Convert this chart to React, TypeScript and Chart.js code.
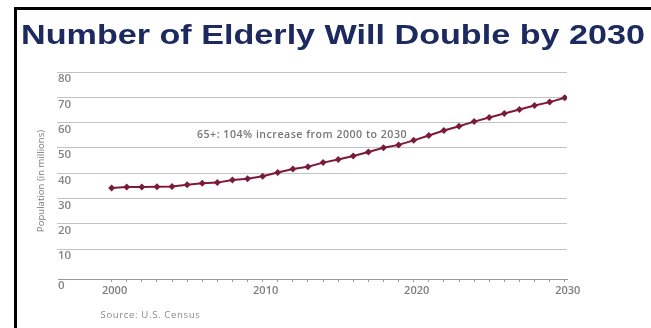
import React, { useEffect, useRef } from "react";
import { Chart, registerables } from "chart.js";

Chart.register(...registerables);

const years = [
  2000, 2001, 2002, 2003, 2004, 2005, 2006, 2007, 2008, 2009,
  2010, 2011, 2012, 2013, 2014, 2015, 2016, 2017, 2018, 2019,
  2020, 2021, 2022, 2023, 2024, 2025, 2026, 2027, 2028, 2029, 2030,
];
const elderlyMillions = [
  34.2, 34.6, 34.6, 34.7, 34.8, 35.5, 36.0, 36.3, 37.3, 37.8,
  38.8, 40.3, 41.7, 42.6, 44.2, 45.4, 46.8, 48.4, 50.1, 51.2,
  53.0, 54.9, 56.9, 58.6, 60.4, 62.0, 63.6, 65.2, 66.8, 68.1, 69.8,
];
const yTickValues = [0, 10, 20, 30, 40, 50, 60, 70, 80];
const xLabelStep = 10;
const titleText = "Number of Elderly Will Double by 2030";
const yAxisTitle = "Population (in millions)";
const annotationText = "65+: 104% increase from 2000 to 2030";
const sourceText = "Source: U.S. Census";

const W = 651;
const H = 328;
const FAM = '"Open Sans", sans-serif';

function spacedFont(
  ctx: CanvasRenderingContext2D,
  text: string,
  font: string,
  targetWidth: number
) {
  (ctx as any).letterSpacing = "0px";
  ctx.font = font;
  const w = ctx.measureText(text).width;
  const sp = Math.max(0, (targetWidth - w) / text.length);
  (ctx as any).letterSpacing = `${sp.toFixed(2)}px`;
}

const decorPlugin = {
  id: "decor",
  beforeDraw(chart: any) {
    const ctx = chart.ctx as CanvasRenderingContext2D;
    ctx.save();
    ctx.fillStyle = "#ffffff";
    ctx.fillRect(0, 0, W, H);
    // frame
    ctx.fillStyle = "#000000";
    ctx.fillRect(14, 7, 3, H - 7);
    ctx.fillRect(14, 7, W - 14, 3);
    // title (horizontally stretched)
    ctx.font = 'bold 28px "Liberation Sans", Arial, sans-serif';
    const tw = ctx.measureText(titleText).width;
    ctx.save();
    ctx.translate(21, 44);
    ctx.scale(624 / tw, 1);
    ctx.fillStyle = "#1c2a60";
    ctx.textBaseline = "alphabetic";
    ctx.textAlign = "left";
    ctx.fillText(titleText, 0, 0);
    ctx.restore();
    // y axis title
    ctx.save();
    ctx.translate(41.5, 181);
    ctx.rotate(-Math.PI / 2);
    spacedFont(ctx, yAxisTitle, `normal 9.6px ${FAM}`, 99);
    ctx.fillStyle = "#7a7a7a";
    ctx.textAlign = "center";
    ctx.textBaseline = "middle";
    ctx.fillText(yAxisTitle, 0, 0);
    ctx.restore();
    // annotation
    ctx.save();
    spacedFont(ctx, annotationText, `600 10.6px ${FAM}`, 210);
    ctx.fillStyle = "#767676";
    ctx.textAlign = "left";
    ctx.textBaseline = "middle";
    ctx.fillText(annotationText, 197, 135);
    ctx.restore();
    // source
    ctx.save();
    spacedFont(ctx, sourceText, `normal 9.6px ${FAM}`, 100);
    ctx.fillStyle = "#8a8a8a";
    ctx.textAlign = "left";
    ctx.textBaseline = "middle";
    ctx.fillText(sourceText, 100.5, 315);
    ctx.restore();
    ctx.restore();
  },
};

export default function App() {
  const canvasRef = useRef<HTMLCanvasElement | null>(null);

  useEffect(() => {
    const canvas = canvasRef.current;
    if (!canvas) return;
    const chart = new Chart(canvas, {
      type: "line",
      data: {
        datasets: [
          {
            data: years.map((x, i) => ({ x, y: elderlyMillions[i] })),
            borderColor: "#7b1a3c",
            backgroundColor: "#7b1a3c",
            borderWidth: 2,
            pointStyle: "rectRot",
            pointRadius: 3.5,
            pointBorderWidth: 0,
            tension: 0,
          },
        ],
      },
      options: {
        animation: false,
        responsive: false,
        devicePixelRatio: 1,
        layout: { padding: { left: 57, right: W - 567, top: 72, bottom: 29 } },
        plugins: {
          legend: { display: false },
          tooltip: { enabled: false },
          title: { display: false },
        },
        scales: {
          x: {
            type: "linear",
            min: 1996.45,
            max: 2030.15,
            afterBuildTicks: (scale: any) => {
              scale.ticks = years.map((v) => ({ value: v }));
            },
            afterFit: (scale: any) => {
              scale.height = 20;
            },
            ticks: {
              autoSkip: false,
              maxRotation: 0,
              minRotation: 0,
              labelOffset: 3,
              padding: 2,
              color: "#7d7d7d",
              font: { family: FAM, size: 11, weight: "600" },
              callback: (v: any) => (Number(v) % xLabelStep === 0 ? String(v) : ""),
            },
            grid: {
              drawOnChartArea: false,
              drawTicks: true,
              tickLength: 3,
              color: "#9a9a9a",
            },
            border: { display: true, color: "#9a9a9a", width: 1 },
          },
          y: {
            type: "linear",
            min: -1.78,
            max: 80,
            afterBuildTicks: (scale: any) => {
              scale.ticks = yTickValues.map((v) => ({ value: v }));
            },
            afterFit: (scale: any) => {
              scale.width = 1;
            },
            ticks: {
              mirror: true,
              labelOffset: 7,
              padding: 0,
              color: "#858585",
              font: { family: FAM, size: 11.5, weight: "600", lineHeight: 0.8 },
              callback: (v: any) => (Number(v) === 0 ? ["", "0"] : String(v)),
            },
            grid: {
              color: (c: any) => (c.tick && c.tick.value === 0 ? "rgba(0,0,0,0)" : "#c2c2c2"),
              lineWidth: 1,
              drawTicks: true,
              tickLength: 1,
            },
            border: { display: false },
          },
        },
      },
      plugins: [decorPlugin],
    });
    return () => chart.destroy();
  }, []);

  return (
    <div style={{ position: "fixed", left: 0, top: 0, width: W, height: H, background: "#fff" }}>
      <canvas ref={canvasRef} width={W} height={H} style={{ width: W, height: H, display: "block" }} />
    </div>
  );
}
